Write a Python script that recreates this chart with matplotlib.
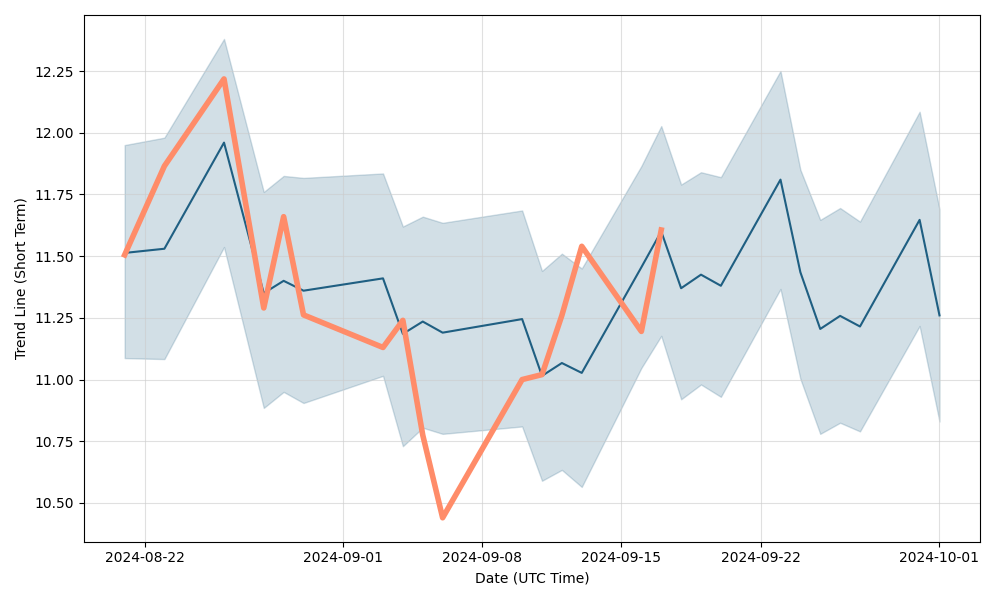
import pandas as pd
import matplotlib
matplotlib.use("Agg")
import matplotlib.pyplot as plt

# === Data ===
dates = pd.to_datetime([
    "2024-08-21", "2024-08-23", "2024-08-26", "2024-08-28", "2024-08-29",
    "2024-08-30", "2024-09-03", "2024-09-04", "2024-09-05", "2024-09-06",
    "2024-09-10", "2024-09-11", "2024-09-12", "2024-09-13", "2024-09-16",
    "2024-09-17", "2024-09-18", "2024-09-19", "2024-09-20", "2024-09-23",
    "2024-09-24", "2024-09-25", "2024-09-26", "2024-09-27", "2024-09-30",
    "2024-10-01",
])

trend = [
    11.513, 11.53, 11.96, 11.35, 11.40, 11.36, 11.41, 11.185, 11.235, 11.19,
    11.245, 11.015, 11.067, 11.027, 11.455, 11.60, 11.37, 11.425, 11.38, 11.81,
    11.435, 11.205, 11.258, 11.215, 11.647, 11.26,
]

upper = [
    11.95, 11.98, 12.38, 11.76, 11.825, 11.817, 11.835, 11.62, 11.66, 11.635,
    11.685, 11.44, 11.51, 11.45, 11.865, 12.027, 11.79, 11.84, 11.82, 12.25,
    11.85, 11.647, 11.695, 11.64, 12.085, 11.69,
]

lower = [
    11.087, 11.083, 11.537, 10.885, 10.95, 10.905, 11.015, 10.73, 10.805, 10.78,
    10.81, 10.59, 10.634, 10.565, 11.047, 11.177, 10.92, 10.98, 10.93, 11.367,
    11.003, 10.78, 10.825, 10.79, 11.217, 10.83,
]

# actual values only go up to 2024-09-17
actual_dates = dates[:16]
actual = [
    11.505, 11.865, 12.218, 11.29, 11.66, 11.262, 11.13, 11.24, 10.775, 10.44,
    11.00, 11.02, 11.26, 11.54, 11.195, 11.606,
]

# === Plot ===
fig, ax = plt.subplots(figsize=(10, 6))

ax.fill_between(dates, lower, upper, color="#1f5f82", alpha=0.2)
ax.plot(dates, trend, color="#1f5f82", linewidth=1.5)
ax.plot(actual_dates, actual, color="#ff8c69", linewidth=4)

ax.grid(True, color="#cccccc", alpha=0.6)
ax.set_xticks(pd.to_datetime(["2024-08-22", "2024-09-01", "2024-09-08",
                              "2024-09-15", "2024-09-22", "2024-10-01"]))
ax.set_xlabel("Date (UTC Time)")
ax.set_ylabel("Trend Line (Short Term)")

plt.tight_layout()
plt.savefig("out.png", dpi=100)
